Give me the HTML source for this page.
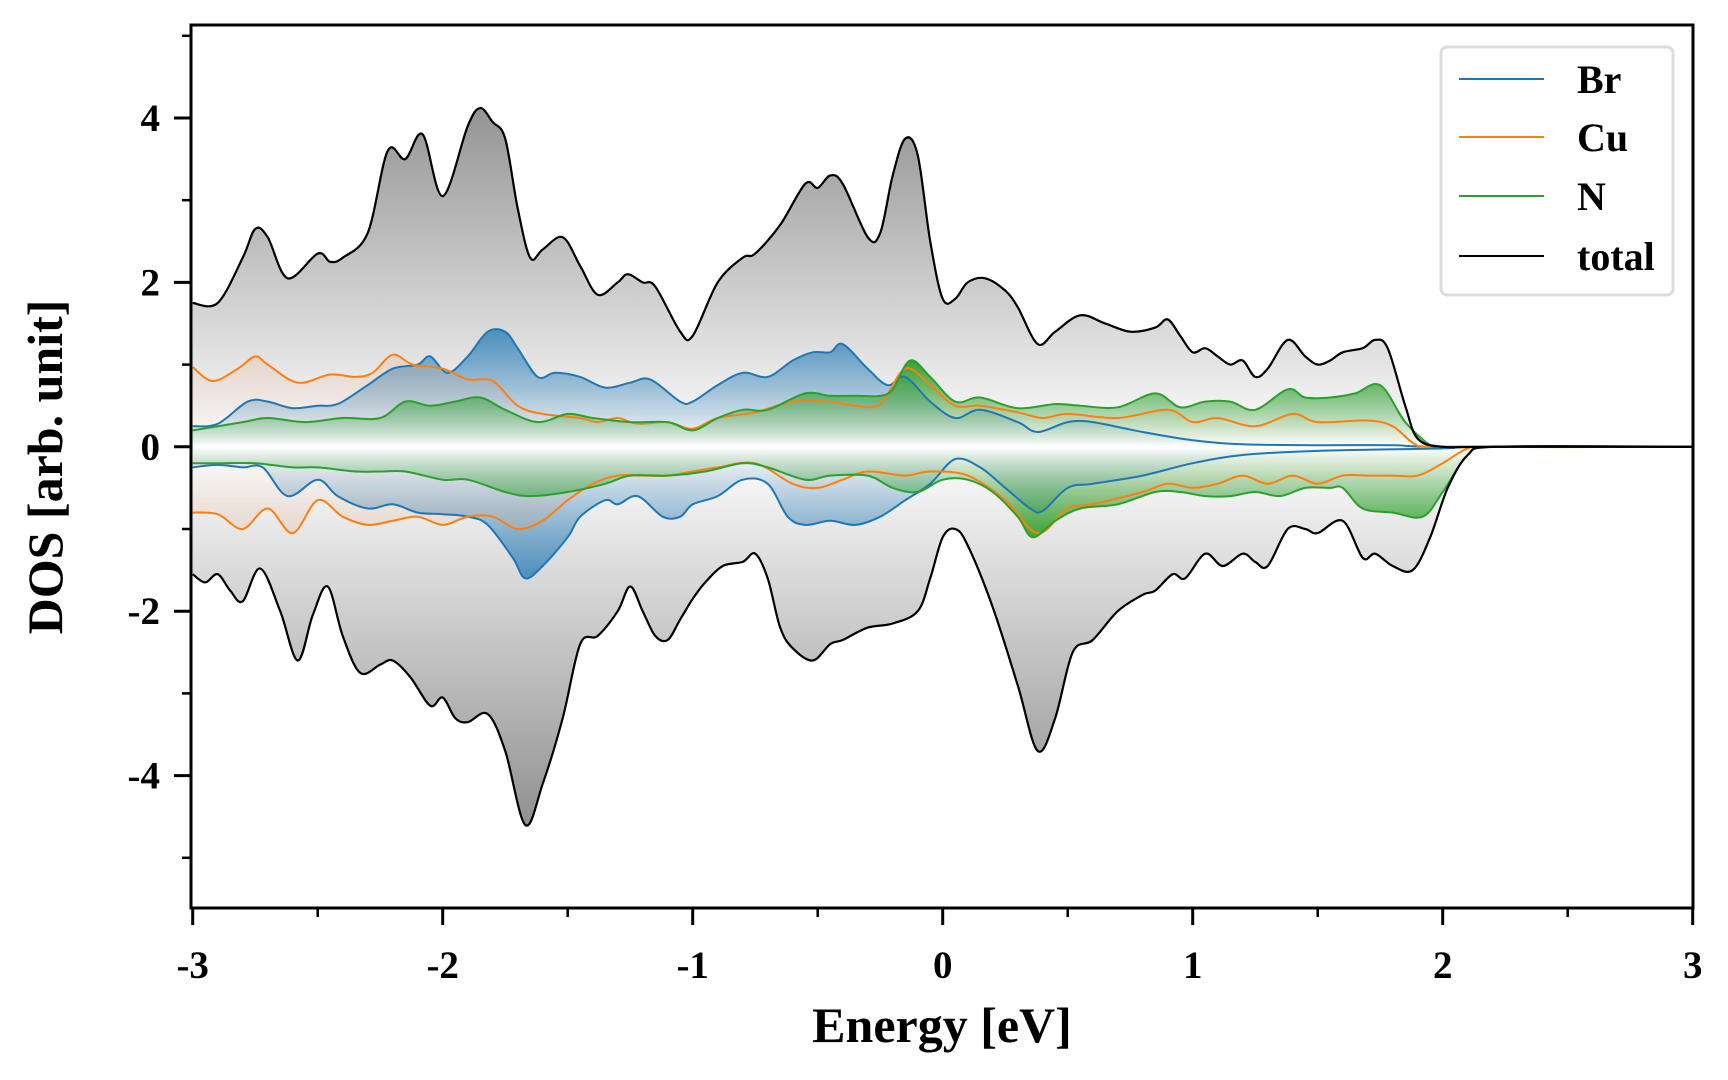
<!DOCTYPE html>
<html><head><meta charset="utf-8"><style>
html,body{margin:0;padding:0;background:#fff;}
svg{display:block;font-family:"Liberation Serif",serif;font-weight:bold;}
</style></head><body>
<svg id="chart" width="1728" height="1080" xmlns="http://www.w3.org/2000/svg">
<defs id="defs"></defs>
<g id="fills"></g>
<g id="lines"></g>
<g id="axes"></g>
<g>
  <rect x="1441" y="47" width="232" height="248" rx="6" fill="#fff" stroke="#dcdcdc" stroke-width="3"/>
  <g><line x1="1459" y1="79" x2="1544" y2="79" stroke="#1f77b4" stroke-width="2"/><text x="1577" y="93" font-size="40">Br</text></g>
  <g><line x1="1459" y1="137" x2="1544" y2="137" stroke="#ff7f0e" stroke-width="2"/><text x="1577" y="151" font-size="40">Cu</text></g>
  <g><line x1="1459" y1="196" x2="1544" y2="196" stroke="#2ca02c" stroke-width="2"/><text x="1577" y="210" font-size="40">N</text></g>
  <g><line x1="1459" y1="256" x2="1544" y2="256" stroke="#000" stroke-width="2"/><text x="1577" y="270" font-size="40">total</text></g>
</g>
<text x="942" y="1042" font-size="50" text-anchor="middle">Energy [eV]</text>
<text transform="translate(62,467) rotate(-90)" font-size="50" text-anchor="middle">DOS [arb. unit]</text>
</svg>
<script>
// ---- data (energy knots in eV, DOS values) ----
const totalUpE=[-3,-2.9,-2.8,-2.75,-2.7,-2.62,-2.5,-2.45,-2.4,-2.3,-2.22,-2.15,-2.08,-2.0,-1.9,-1.85,-1.8,-1.75,-1.7,-1.65,-1.6,-1.52,-1.45,-1.38,-1.3,-1.26,-1.2,-1.15,-1.05,-1.0,-0.9,-0.8,-0.75,-0.65,-0.55,-0.5,-0.45,-0.4,-0.3,-0.25,-0.2,-0.15,-0.1,-0.05,0,0.05,0.1,0.17,0.25,0.3,0.38,0.45,0.55,0.65,0.75,0.85,0.9,0.95,1.0,1.05,1.1,1.15,1.2,1.25,1.3,1.38,1.45,1.5,1.55,1.6,1.68,1.73,1.78,1.85,1.9,2.0,2.2,3];
const totalUpV=[1.75,1.75,2.3,2.65,2.55,2.05,2.35,2.25,2.3,2.6,3.6,3.5,3.8,3.05,3.9,4.12,3.95,3.75,2.9,2.3,2.4,2.55,2.2,1.85,2.0,2.1,2.0,1.95,1.4,1.35,2.0,2.3,2.35,2.7,3.2,3.15,3.3,3.2,2.55,2.6,3.3,3.75,3.55,2.5,1.8,1.8,2.0,2.05,1.9,1.7,1.25,1.4,1.6,1.5,1.4,1.45,1.55,1.35,1.15,1.2,1.1,1.0,1.05,0.85,0.95,1.3,1.1,1.0,1.05,1.15,1.2,1.3,1.2,0.5,0.1,0,0,0];
const totalDnE=[-3,-2.95,-2.9,-2.85,-2.8,-2.73,-2.65,-2.58,-2.52,-2.46,-2.4,-2.33,-2.25,-2.2,-2.13,-2.05,-2.0,-1.95,-1.9,-1.82,-1.75,-1.67,-1.6,-1.52,-1.45,-1.38,-1.3,-1.25,-1.2,-1.15,-1.1,-1.05,-1.0,-0.95,-0.88,-0.8,-0.75,-0.7,-0.65,-0.6,-0.52,-0.45,-0.4,-0.3,-0.2,-0.1,-0.05,0,0.05,0.1,0.2,0.3,0.38,0.45,0.52,0.6,0.7,0.8,0.85,0.92,0.97,1.05,1.12,1.2,1.25,1.3,1.38,1.45,1.5,1.6,1.68,1.73,1.8,1.88,1.95,2.02,2.1,2.2,3];
const totalDnV=[-1.55,-1.65,-1.55,-1.75,-1.88,-1.48,-2.0,-2.6,-2.05,-1.7,-2.3,-2.75,-2.65,-2.6,-2.8,-3.15,-3.05,-3.3,-3.35,-3.25,-3.7,-4.6,-4.1,-3.3,-2.4,-2.3,-2.0,-1.7,-2.0,-2.3,-2.35,-2.1,-1.85,-1.65,-1.45,-1.4,-1.3,-1.6,-2.2,-2.45,-2.6,-2.4,-2.35,-2.2,-2.15,-2.0,-1.6,-1.1,-1.0,-1.2,-1.95,-2.9,-3.7,-3.3,-2.5,-2.35,-2.0,-1.8,-1.75,-1.55,-1.6,-1.3,-1.45,-1.3,-1.4,-1.45,-1.0,-1.0,-1.05,-0.9,-1.35,-1.3,-1.45,-1.5,-1.1,-0.5,-0.1,0,0];
const brUpE=[-3,-2.9,-2.78,-2.7,-2.6,-2.5,-2.45,-2.4,-2.3,-2.2,-2.1,-2.05,-1.98,-1.9,-1.82,-1.75,-1.7,-1.62,-1.55,-1.45,-1.35,-1.25,-1.17,-1.05,-1.0,-0.9,-0.8,-0.7,-0.6,-0.52,-0.45,-0.4,-0.3,-0.22,-0.15,-0.05,0.05,0.15,0.3,0.38,0.5,0.6,0.8,1.0,1.2,1.5,1.8,2.0,3];
const brUpV=[0.25,0.28,0.55,0.55,0.47,0.5,0.5,0.55,0.75,0.95,1.0,1.1,0.9,1.1,1.4,1.4,1.2,0.85,0.9,0.85,0.72,0.78,0.82,0.55,0.55,0.75,0.9,0.85,1.05,1.15,1.15,1.25,0.95,0.75,0.85,0.55,0.35,0.45,0.3,0.18,0.3,0.3,0.18,0.08,0.03,0.02,0.02,0,0];
const brDnE=[-3,-2.9,-2.8,-2.72,-2.62,-2.5,-2.42,-2.3,-2.2,-2.1,-2.0,-1.9,-1.82,-1.72,-1.67,-1.6,-1.5,-1.45,-1.35,-1.3,-1.22,-1.12,-1.05,-1.0,-0.9,-0.8,-0.7,-0.62,-0.55,-0.45,-0.35,-0.25,-0.15,-0.05,0.05,0.15,0.25,0.35,0.4,0.5,0.6,0.8,1.0,1.2,1.5,2.0,2.1,3];
const brDnV=[-0.25,-0.22,-0.25,-0.25,-0.6,-0.4,-0.6,-0.75,-0.7,-0.8,-0.82,-0.85,-0.95,-1.35,-1.6,-1.45,-1.1,-0.85,-0.65,-0.7,-0.6,-0.85,-0.85,-0.7,-0.6,-0.4,-0.45,-0.85,-0.95,-0.9,-0.95,-0.85,-0.65,-0.45,-0.15,-0.25,-0.5,-0.75,-0.78,-0.5,-0.45,-0.35,-0.2,-0.1,-0.05,-0.02,0,0];
const cuUpE=[-3,-2.92,-2.82,-2.75,-2.7,-2.58,-2.45,-2.35,-2.28,-2.2,-2.12,-2.0,-1.9,-1.8,-1.7,-1.6,-1.45,-1.38,-1.3,-1.22,-1.1,-1.0,-0.9,-0.75,-0.6,-0.45,-0.35,-0.25,-0.15,-0.05,0.05,0.15,0.3,0.4,0.5,0.7,0.9,1.0,1.1,1.25,1.4,1.5,1.7,1.8,1.88,1.95,3];
const cuUpV=[0.97,0.8,0.95,1.1,1.0,0.78,0.88,0.85,0.9,1.12,1.0,0.95,0.82,0.8,0.5,0.4,0.35,0.3,0.35,0.28,0.3,0.22,0.35,0.42,0.55,0.55,0.5,0.52,0.95,0.75,0.5,0.5,0.42,0.35,0.4,0.35,0.45,0.3,0.35,0.25,0.4,0.3,0.32,0.25,0.05,0,0];
const cuDnE=[-3,-2.9,-2.8,-2.7,-2.6,-2.5,-2.4,-2.3,-2.2,-2.1,-2.0,-1.9,-1.8,-1.7,-1.6,-1.5,-1.4,-1.3,-1.2,-1.1,-1.0,-0.9,-0.75,-0.6,-0.5,-0.4,-0.3,-0.15,-0.05,0.1,0.25,0.38,0.5,0.6,0.8,0.9,1.0,1.1,1.2,1.3,1.4,1.5,1.6,1.7,1.8,1.9,2.0,2.1,2.2,3];
const cuDnV=[-0.8,-0.82,-1.0,-0.75,-1.05,-0.65,-0.85,-0.95,-0.9,-0.85,-0.95,-0.85,-0.85,-1.0,-0.9,-0.65,-0.45,-0.35,-0.35,-0.35,-0.3,-0.25,-0.2,-0.45,-0.5,-0.4,-0.3,-0.35,-0.3,-0.35,-0.65,-1.05,-0.75,-0.7,-0.55,-0.45,-0.5,-0.45,-0.35,-0.45,-0.35,-0.45,-0.35,-0.35,-0.35,-0.35,-0.2,-0.02,0,0];
const nUpE=[-3,-2.8,-2.7,-2.55,-2.4,-2.25,-2.15,-2.05,-1.95,-1.85,-1.75,-1.62,-1.5,-1.4,-1.25,-1.1,-1.0,-0.9,-0.8,-0.7,-0.55,-0.45,-0.35,-0.25,-0.2,-0.13,-0.05,0.05,0.15,0.3,0.45,0.55,0.7,0.85,0.95,1.05,1.15,1.25,1.38,1.45,1.55,1.65,1.75,1.85,1.95,2.0,3];
const nUpV=[0.2,0.3,0.35,0.3,0.35,0.35,0.55,0.5,0.55,0.6,0.45,0.3,0.4,0.35,0.3,0.3,0.2,0.35,0.45,0.45,0.65,0.62,0.62,0.62,0.7,1.05,0.85,0.55,0.6,0.47,0.52,0.5,0.48,0.65,0.48,0.55,0.55,0.45,0.7,0.6,0.6,0.65,0.75,0.3,0.02,0,0];
const nDnE=[-3,-2.9,-2.75,-2.6,-2.5,-2.35,-2.25,-2.15,-2.0,-1.9,-1.75,-1.65,-1.5,-1.35,-1.25,-1.1,-0.95,-0.8,-0.7,-0.55,-0.45,-0.3,-0.2,-0.1,0,0.1,0.2,0.3,0.36,0.45,0.55,0.7,0.85,0.95,1.05,1.15,1.25,1.35,1.45,1.55,1.6,1.68,1.8,1.92,2.0,2.1,2.2,3];
const nDnV=[-0.2,-0.2,-0.2,-0.25,-0.25,-0.3,-0.3,-0.3,-0.4,-0.4,-0.55,-0.6,-0.55,-0.45,-0.35,-0.35,-0.3,-0.2,-0.25,-0.4,-0.35,-0.35,-0.5,-0.55,-0.4,-0.4,-0.55,-0.85,-1.1,-0.9,-0.75,-0.7,-0.55,-0.55,-0.6,-0.6,-0.55,-0.6,-0.5,-0.5,-0.5,-0.75,-0.8,-0.85,-0.55,-0.1,0,0];
const xTicks=[-3,-2,-1,0,1,2,3];
const xTickLabels=["-3","-2","-1","0","1","2","3"];
const yTicks=[-4,-2,0,2,4];
const yTickLabels=["-4","-2","0","2","4"];

// ---- scales ----
const X0=192.7, XS=250, Y0=446.8, YS=82.2;
const L=191, R=1693, T=25, B=908;
function sx(e){return X0+(e+3)*XS;}
function sy(v){return Y0-v*YS;}
const NS="http://www.w3.org/2000/svg";
function mk(tag,attrs,parent){const el=document.createElementNS(NS,tag);for(const k in attrs)el.setAttribute(k,attrs[k]);parent.appendChild(el);return el;}

function curve(E,V){
  const p=E.map((e,i)=>[sx(e),sy(V[i])]);
  let d="M"+p[0][0].toFixed(1)+","+p[0][1].toFixed(1);
  for(let i=0;i<p.length-1;i++){
    const p0=p[Math.max(0,i-1)],p1=p[i],p2=p[i+1],p3=p[Math.min(p.length-1,i+2)];
    const t=1/6;
    let c1x=p1[0]+(p2[0]-p0[0])*t, c1y=p1[1]+(p2[1]-p0[1])*t;
    let c2x=p2[0]-(p3[0]-p1[0])*t, c2y=p2[1]-(p3[1]-p1[1])*t;
    c1x=Math.min(Math.max(c1x,p1[0]),p2[0]); c2x=Math.min(Math.max(c2x,p1[0]),p2[0]);
    d+=" C"+c1x.toFixed(1)+","+c1y.toFixed(1)+" "+c2x.toFixed(1)+","+c2y.toFixed(1)+" "+p2[0].toFixed(1)+","+p2[1].toFixed(1);
  }
  return d;
}
const defs=document.getElementById('defs');
function grad(id,color,vEnd,op0,op1){
  const g=mk('linearGradient',{id:id,gradientUnits:'userSpaceOnUse',x1:0,x2:0,y1:sy(0),y2:sy(vEnd)},defs);
  mk('stop',{offset:0,'stop-color':color,'stop-opacity':op0},g);
  mk('stop',{offset:1,'stop-color':color,'stop-opacity':op1},g);
}
grad('gTotUp','#8c8c8c',4.4,0,1);grad('gTotDn','#8c8c8c',-4.8,0,1);
grad('gBrUp','#1f77b4',1.6,0,0.85);grad('gBrDn','#1f77b4',-1.8,0,0.85);
grad('gCuUp','#e8a070',1.6,0,0.3);grad('gCuDn','#e8a070',-1.6,0,0.3);
grad('gNUp','#2ca02c',1.1,0,1);grad('gNDn','#2ca02c',-1.2,0,1);

const fills=document.getElementById('fills'), lines=document.getElementById('lines');
const series=[
 ['total-up',totalUpE,totalUpV,'gTotUp','#000'],['total-down',totalDnE,totalDnV,'gTotDn','#000'],
 ['br-up',brUpE,brUpV,'gBrUp','#1f77b4'],['br-down',brDnE,brDnV,'gBrDn','#1f77b4'],
 ['cu-up',cuUpE,cuUpV,'gCuUp','#ff7f0e'],['cu-down',cuDnE,cuDnV,'gCuDn','#ff7f0e'],
 ['n-up',nUpE,nUpV,'gNUp','#2ca02c'],['n-down',nDnE,nDnV,'gNDn','#2ca02c']];
series.forEach(s=>{
  const d=curve(s[1],s[2]);
  const f=mk('path',{d:d+" L"+sx(s[1][s[1].length-1])+","+sy(0)+" L"+sx(s[1][0])+","+sy(0)+" Z",fill:'url(#'+s[3]+')'},fills);
  
  
});
[2,3,4,5,6,7,0,1].forEach(i=>{
  const s=series[i];
  const l=mk('path',{d:curve(s[1],s[2]),fill:'none',stroke:s[4],'stroke-width':s[4]==='#000'?2.2:2,'stroke-linejoin':'round'},lines);
  
  
});

// ---- axes ----
const ax=document.getElementById('axes');
const frame=mk('rect',{x:L,y:T,width:R-L,height:B-T,fill:'none',stroke:'#000','stroke-width':3},ax);


xTicks.forEach((t,i)=>{
  const tk=mk('line',{x1:sx(t),x2:sx(t),y1:B,y2:B+17,stroke:'#000','stroke-width':3},ax);
  
  
  const tl=mk('text',{x:sx(t),y:B+70,'font-size':39,'text-anchor':'middle'},ax);
  tl.textContent=xTickLabels[i];
  
  
  if(t<3){
    const mn=mk('line',{x1:sx(t+0.5),x2:sx(t+0.5),y1:B,y2:B+9,stroke:'#000','stroke-width':2.5},ax);
    
    
  }
});
yTicks.forEach((t,i)=>{
  const tk=mk('line',{x1:L-17,x2:L,y1:sy(t),y2:sy(t),stroke:'#000','stroke-width':3},ax);
  
  
  const tl=mk('text',{x:L-31,y:sy(t)+13,'font-size':39,'text-anchor':'end'},ax);
  tl.textContent=yTickLabels[i];
  
  
});
[-5,-3,-1,1,3,5].forEach(t=>{
  const mn=mk('line',{x1:L-9,x2:L,y1:sy(t),y2:sy(t),stroke:'#000','stroke-width':2.5},ax);
  
  
});
</script>
</body></html>
